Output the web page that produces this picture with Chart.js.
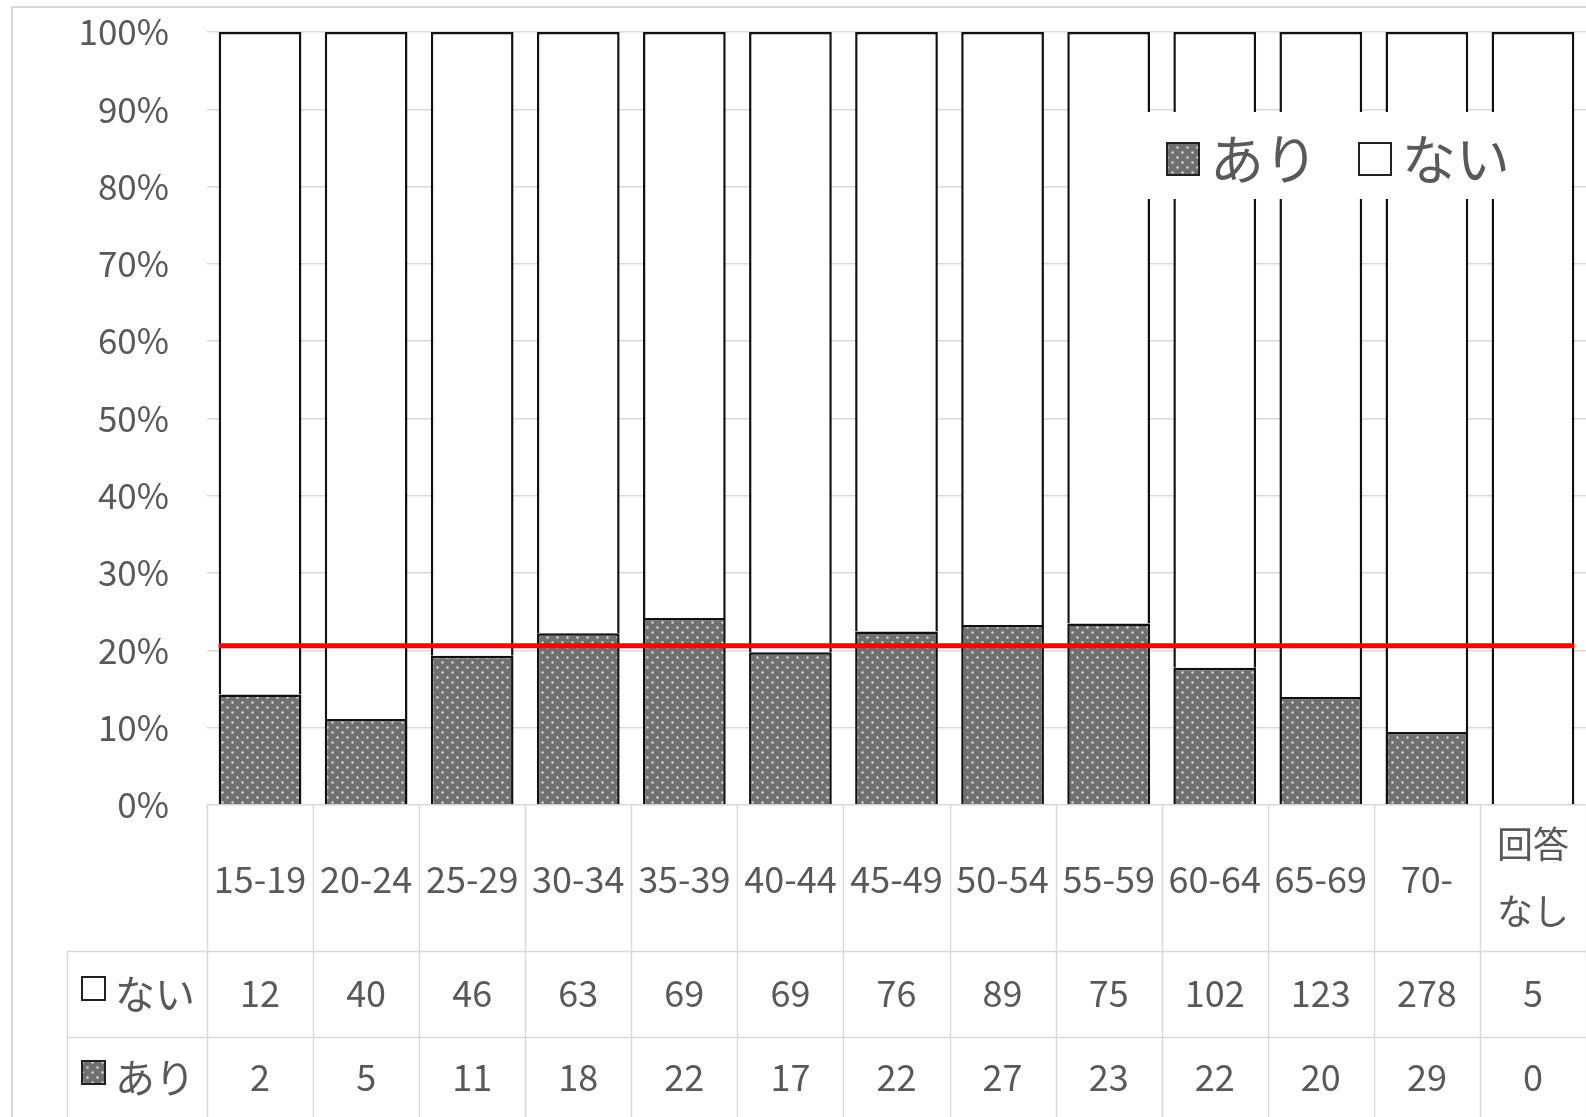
<!DOCTYPE html>
<html>
<head>
<meta charset="utf-8">
<script src="https://cdn.jsdelivr.net/npm/chart.js@4.4.1/dist/chart.umd.min.js"></script>
<style>
  html, body { margin: 0; padding: 0; background: #fff; overflow: hidden; }
  #wrap { width: 1586px; height: 1117px; position: relative; }
</style>
</head>
<body>
<div id="wrap"><canvas id="chart"></canvas></div>
<script>
// age groups (last one is "no answer")
var categories = ['15-19', '20-24', '25-29', '30-34', '35-39', '40-44', '45-49', '50-54', '55-59', '60-64', '65-69', '70-', ['回答', 'なし']];
var ariCounts = [2, 5, 11, 18, 22, 17, 22, 27, 23, 22, 20, 29, 0];
var naiCounts = [12, 40, 46, 63, 69, 69, 76, 89, 75, 102, 123, 278, 5];
var yTickLabels = ['0%', '10%', '20%', '30%', '40%', '50%', '60%', '70%', '80%', '90%', '100%'];
var referenceLine = 20.6;

var FONT = '"Noto Sans CJK JP", "Noto Sans", sans-serif';
var TEXT = '#595959';
var GRID = '#d9d9d9';

// percentages for the 100% stacked bars
var ariPct = [], naiPct = [];
for (var i = 0; i < categories.length; i++) {
    var total = ariCounts[i] + naiCounts[i];
    ariPct.push(total ? ariCounts[i] / total * 100 : 0);
    naiPct.push(total ? naiCounts[i] / total * 100 : 0);
}

// dotted dark fill like the original
function makeDots() {
    var c = document.createElement('canvas');
    c.width = 10; c.height = 10;
    var g = c.getContext('2d');
    g.fillStyle = '#707070';
    g.fillRect(0, 0, 10, 10);
    g.fillStyle = '#d8d8d8';
    g.beginPath(); g.arc(2.5, 2.5, 1.2, 0, Math.PI * 2); g.fill();
    g.beginPath(); g.arc(7.5, 7.5, 1.2, 0, Math.PI * 2); g.fill();
    return g.createPattern(c, 'repeat');
}
var dots = makeDots();

function drawSwatch(ctx, x, y, s, filled) {
    ctx.save();
    ctx.fillStyle = filled ? dots : '#fff';
    ctx.fillRect(x, y, s, s);
    ctx.lineWidth = 2;
    ctx.strokeStyle = '#222';
    ctx.strokeRect(x, y, s, s);
    ctx.restore();
}

var framePlugin = {
    id: 'frame',
    beforeDraw: function (chart) {
        var ctx = chart.ctx;
        ctx.save();
        ctx.strokeStyle = GRID;
        ctx.lineWidth = 2;
        ctx.strokeRect(12, 7, 1700, 1300);
        ctx.restore();
    }
};

var overlayPlugin = {
    id: 'overlay',
    afterDatasetsDraw: function (chart) {
        var ctx = chart.ctx;
        var y = chart.scales.y;
        var bars = chart.getDatasetMeta(0).data;
        var first = bars[0], last = bars[bars.length - 1];

        // red reference line
        ctx.save();
        ctx.strokeStyle = '#ff0000';
        ctx.lineWidth = 5;
        ctx.beginPath();
        var ly = y.getPixelForValue(referenceLine);
        ctx.moveTo(first.x - first.width / 2, ly);
        ctx.lineTo(last.x + last.width / 2, ly);
        ctx.stroke();

        // legend inside the plot
        ctx.fillStyle = '#fff';
        ctx.fillRect(1147, 112, 376, 87);
        ctx.font = '54px ' + FONT;
        ctx.fillStyle = TEXT;
        ctx.textBaseline = 'middle';
        drawSwatch(ctx, 1167, 143, 32, true);
        ctx.fillText('あり', 1210, 159);
        drawSwatch(ctx, 1359, 143, 32, false);
        ctx.fillText('ない', 1402, 159);
        ctx.restore();
    },
    afterDraw: function (chart) {
        var ctx = chart.ctx;
        var xs = chart.scales.x;
        var area = chart.chartArea;
        var n = categories.length;
        var colW = (area.right - area.left) / n;
        var rows = [area.bottom, 951, 1037, 1117];
        var headLeft = 67;

        ctx.save();
        ctx.strokeStyle = GRID;
        ctx.lineWidth = 1.5;
        ctx.beginPath();
        for (var i = 0; i <= n; i++) {
            var bx = Math.round(area.left + i * colW) + 0.5;
            ctx.moveTo(bx, rows[0]);
            ctx.lineTo(bx, rows[3]);
        }
        ctx.moveTo(headLeft + 0.5, rows[1]);
        ctx.lineTo(headLeft + 0.5, rows[3]);
        for (var r = 1; r <= 2; r++) {
            ctx.moveTo(headLeft, rows[r] + 0.5);
            ctx.lineTo(area.right, rows[r] + 0.5);
        }
        ctx.stroke();

        ctx.fillStyle = TEXT;
        ctx.textAlign = 'center';
        ctx.textBaseline = 'middle';
        ctx.font = '36px ' + FONT;
        for (var j = 0; j < n; j++) {
            var cx = xs.getPixelForValue(j);
            var lab = categories[j];
            if (Array.isArray(lab)) {
                ctx.fillText(lab[0], cx, 844);
                ctx.fillText(lab[1], cx, 911);
            } else {
                ctx.fillText(lab, cx, 879);
            }
            ctx.fillText(String(naiCounts[j]), cx, 993);
            ctx.fillText(String(ariCounts[j]), cx, 1077);
        }

        // row headers
        ctx.textAlign = 'left';
        ctx.font = '40px ' + FONT;
        drawSwatch(ctx, 82, 977, 23, false);
        ctx.fillText('ない', 115, 994);
        drawSwatch(ctx, 82, 1061, 23, true);
        ctx.fillText('あり', 115, 1078);
        ctx.restore();
    }
};

var chart = new Chart(document.getElementById('chart'), {
    type: 'bar',
    data: {
        labels: categories,
        datasets: [
            {
                label: 'あり',
                data: ariPct,
                backgroundColor: dots,
                borderColor: '#111',
                borderWidth: 2.5,
                barPercentage: 0.78,
                categoryPercentage: 1
            },
            {
                label: 'ない',
                data: naiPct,
                backgroundColor: '#fff',
                borderColor: '#111',
                borderWidth: 2.5,
                barPercentage: 0.78,
                categoryPercentage: 1
            }
        ]
    },
    options: {
        responsive: true,
        maintainAspectRatio: false,
        animation: false,
        layout: {
            padding: { left: 0, right: 0, top: 32, bottom: 312 }
        },
        plugins: {
            legend: { display: false },
            tooltip: { enabled: false }
        },
        scales: {
            x: {
                display: false,
                stacked: true
            },
            y: {
                stacked: true,
                min: 0,
                max: 100,
                afterFit: function (scale) {
                    scale.width = 207;
                    scale.paddingTop = 0;
                    scale.paddingBottom = 0;
                },
                border: { display: false },
                grid: { color: GRID, lineWidth: 1.5, drawTicks: false },
                ticks: {
                    stepSize: 10,
                    padding: 38,
                    color: TEXT,
                    font: { size: 35, family: FONT },
                    callback: function (v, idx) { return yTickLabels[idx]; }
                }
            }
        }
    },
    plugins: [framePlugin, overlayPlugin]
});
</script>
</body>
</html>
